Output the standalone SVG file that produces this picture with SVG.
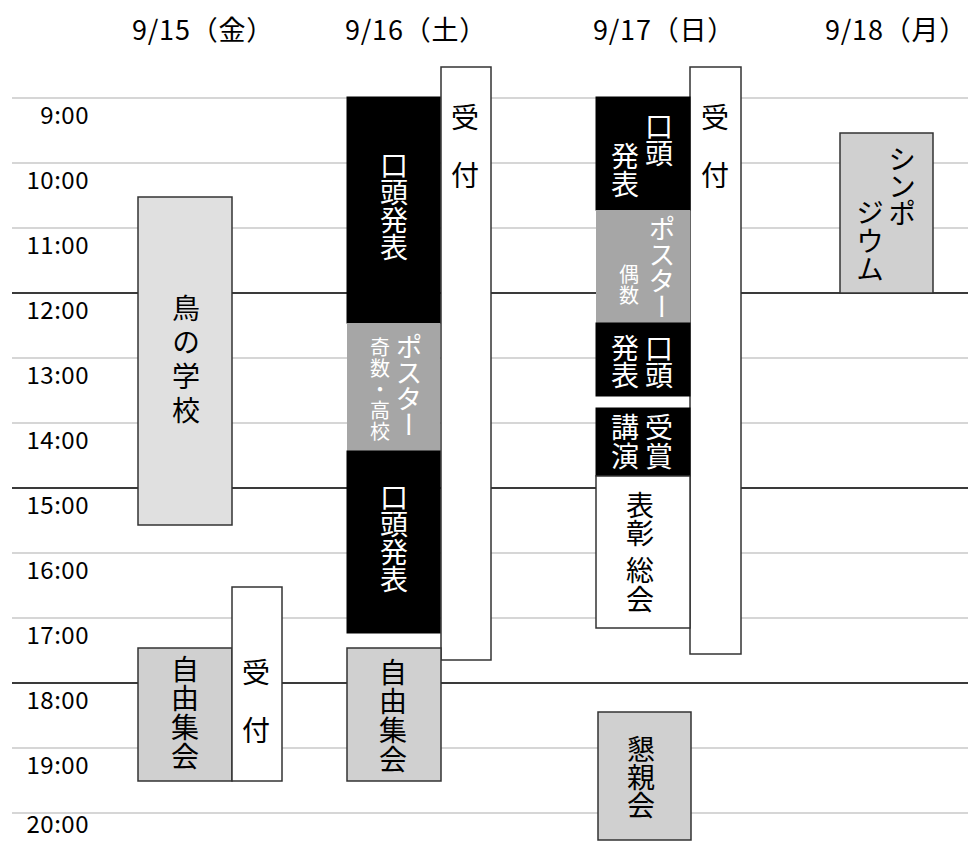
<svg xmlns="http://www.w3.org/2000/svg" width="968" height="841" viewBox="0 0 968 841">
<style>
.bg{fill:#ffffff}
.lt{stroke:#c8c8c8;stroke-width:1.6;fill:none}
.dk{stroke:#3a3a3a;stroke-width:1.8;fill:none}
.tm{font-family:"Noto Sans CJK JP","Liberation Sans",sans-serif;font-size:24px;fill:#000;text-anchor:end;letter-spacing:0.5px}
.hd{font-family:"Noto Sans CJK JP","Liberation Sans",sans-serif;font-size:27px;fill:#000;text-anchor:middle;letter-spacing:0.8px}
.v{font-family:"Noto Sans CJK JP",sans-serif;writing-mode:vertical-rl;font-size:28px;fill:#000}
.vw{font-family:"Noto Sans CJK JP",sans-serif;writing-mode:vertical-rl;font-size:28px;fill:#fff}
.vp{font-family:"Noto Sans CJK JP",sans-serif;writing-mode:vertical-rl;font-size:27px;fill:#fff}
.vs{font-family:"Noto Sans CJK JP",sans-serif;writing-mode:vertical-rl;font-size:20px;fill:#fff}
.blk{fill:#000;stroke:#000;stroke-width:1}
.pst{fill:#a6a6a6;stroke:none}
.wht{fill:#fff;stroke:#333;stroke-width:1.5}
.g1{fill:#e0e0e0;stroke:#333;stroke-width:1.5}
.g2{fill:#d0d0d0;stroke:#333;stroke-width:1.5}
</style>
<rect class="bg" x="0" y="0" width="968" height="841"/>
<g id="headers">
<text class="hd" x="203" y="40">9/15（金）</text>
<text class="hd" x="416" y="40">9/16（土）</text>
<text class="hd" x="664" y="40">9/17（日）</text>
<text class="hd" x="896" y="40">9/18（月）</text>
</g>
<g id="grid">
<line class="lt" x1="12" y1="98" x2="968" y2="98"/>
<line class="lt" x1="12" y1="163" x2="968" y2="163"/>
<line class="lt" x1="12" y1="228" x2="968" y2="228"/>
<line class="dk" x1="12" y1="293" x2="968" y2="293"/>
<line class="lt" x1="12" y1="358" x2="968" y2="358"/>
<line class="lt" x1="12" y1="423" x2="968" y2="423"/>
<line class="dk" x1="12" y1="488" x2="968" y2="488"/>
<line class="lt" x1="12" y1="553" x2="968" y2="553"/>
<line class="lt" x1="12" y1="618" x2="968" y2="618"/>
<line class="dk" x1="12" y1="683" x2="968" y2="683"/>
<line class="lt" x1="12" y1="748" x2="968" y2="748"/>
<line class="lt" x1="12" y1="813" x2="968" y2="813"/>
<text class="tm" x="89" y="124">9:00</text>
<text class="tm" x="89" y="189">10:00</text>
<text class="tm" x="89" y="254">11:00</text>
<text class="tm" x="89" y="319">12:00</text>
<text class="tm" x="89" y="384">13:00</text>
<text class="tm" x="89" y="449">14:00</text>
<text class="tm" x="89" y="514">15:00</text>
<text class="tm" x="89" y="579">16:00</text>
<text class="tm" x="89" y="644">17:00</text>
<text class="tm" x="89" y="709">18:00</text>
<text class="tm" x="89" y="774">19:00</text>
<text class="tm" x="89" y="833">20:00</text>
</g>
<g id="connectors"></g>
<g id="d15-school">
<rect class="g1" x="138" y="197" width="94" height="328"/>
<text class="v" x="186" y="294 328 362 396">鳥の学校</text>
</g>
<g id="d15-free">
<rect class="g2" x="138" y="648" width="94" height="133"/>
<text class="v" x="185" y="655 684 713 742">自由集会</text>
</g>
<g id="d15-reception">
<rect class="wht" x="232" y="587" width="50" height="194"/>
<text class="v" x="256" y="658 716">受付</text>
</g>
<g id="d16-reception">
<rect class="wht" x="441" y="67" width="50" height="593"/>
<text class="v" x="465" y="103 161">受付</text>
</g>
<g id="d16-oral1">
<rect class="blk" x="347" y="97" width="93" height="226"/>
<text class="vw" x="394" y="151 178 206 233">口頭発表</text>
</g>
<g id="d16-poster">
<rect class="pst" x="347" y="323" width="93" height="128"/>
<text class="vp" x="409" y="333 359 385 411">ポスター</text>
<text class="vs" x="380" y="337 358 379 400 421">奇数・高校</text>
</g>
<g id="d16-oral2">
<rect class="blk" x="347" y="451" width="93" height="182"/>
<text class="vw" x="394" y="483 510 538 565">口頭発表</text>
</g>
<g id="d16-free">
<rect class="g2" x="347" y="648" width="94" height="133"/>
<text class="v" x="393" y="658 687 716 745">自由集会</text>
</g>
<g id="d17-reception">
<rect class="wht" x="690" y="67" width="51" height="587"/>
<text class="v" x="715" y="103 161">受付</text>
</g>
<g id="d17-oral1">
<rect class="blk" x="596" y="97" width="94" height="113"/>
<text class="vw" x="659" y="112 139">口頭</text>
<text class="vw" x="625" y="142 170">発表</text>
</g>
<g id="d17-poster">
<rect class="pst" x="596" y="210" width="94" height="113"/>
<text class="vp" x="662" y="215 241 267 293">ポスター</text>
<text class="vs" x="629" y="264 285">偶数</text>
</g>
<g id="d17-oral2">
<rect class="blk" x="596" y="323" width="94" height="73"/>
<text class="vw" x="659" y="334 361">口頭</text>
<text class="vw" x="625" y="334 361">発表</text>
</g>
<g id="d17-award-lecture">
<rect class="blk" x="596" y="408" width="94" height="68"/>
<text class="vw" x="659" y="413 442">受賞</text>
<text class="vw" x="625" y="413 442">講演</text>
</g>
<g id="d17-ceremony">
<rect class="wht" x="596" y="476" width="94" height="152"/>
<text class="v" x="640" y="491 519 556 585">表彰総会</text>
</g>
<g id="d17-party">
<rect class="g2" x="598" y="712" width="93" height="128"/>
<text class="v" x="641" y="735 763 791">懇親会</text>
</g>
<g id="d18-symposium">
<rect class="g2" x="840" y="133" width="93" height="160"/>
<text class="v" x="902" y="145 172 199">シンポ</text>
<text class="v" x="870" y="198 227 255">ジウム</text>
</g>
</svg>
